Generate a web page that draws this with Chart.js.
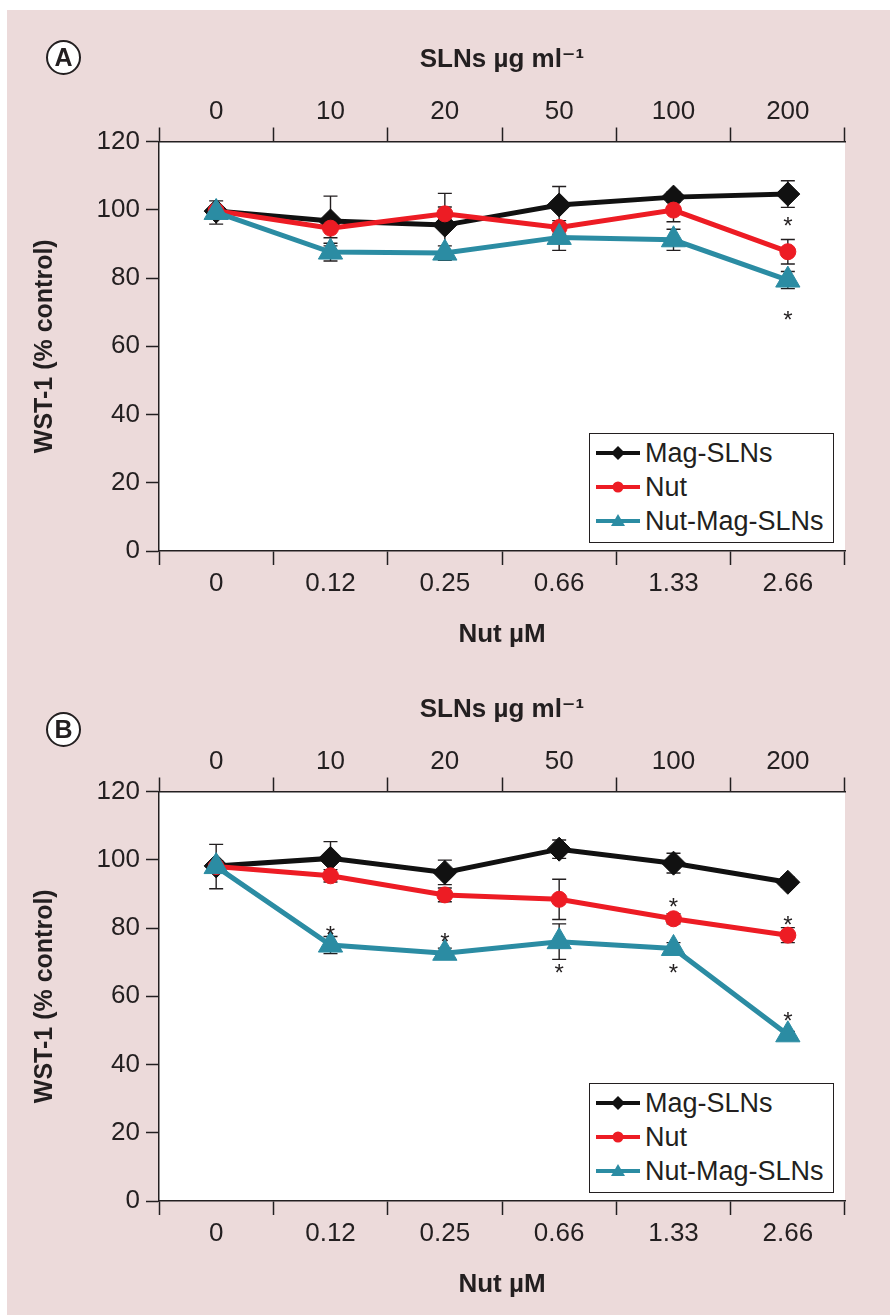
<!DOCTYPE html>
<html>
<head>
<meta charset="utf-8">
<script src="https://cdn.jsdelivr.net/npm/chart.js@4.4.1/dist/chart.umd.min.js"></script>
<style>
  body { margin: 0; width: 890px; height: 1315px; background: #fff; position: relative; overflow: hidden;
         font-family: 'Liberation Sans', Arial, sans-serif; color: #231f20; }
  #bg { position: absolute; left: 7px; top: 10px; right: 0; bottom: 0; background: #ecdada; }
  .panel { position: absolute; left: 0; width: 890px; height: 650px; }
  .tag { position: absolute; width: 31px; height: 31px; border: 2px solid #231f20; border-radius: 50%;
         background: #fff; font-weight: bold; font-size: 25px; line-height: 31px; text-align: center; }
  .legend { position: absolute; left: 589px; width: 243px; height: 106px; border: 1.5px solid #231f20;
            background: #fff; padding-top: 2px; box-sizing: content-box; }
  .legend .row { height: 34px; line-height: 34px; font-size: 27px; white-space: nowrap; }
  .legend svg { vertical-align: middle; margin: 0 5px 0 6px; position: relative; top: -2px; }
</style>
</head>
<body>
<div id="bg"></div>

<div class="panel" style="top:0"><canvas id="chartA"></canvas></div>
<div class="panel" style="top:650px"><canvas id="chartB"></canvas></div>

<div class="tag" style="left:46px; top:40px">A</div>
<div class="tag" style="left:46px; top:712px">B</div>

<div class="legend" style="top:433px" id="legendA"></div>
<div class="legend" style="top:1083px" id="legendB"></div>

<script>
/* ---- data ---- */
var nutLabels = ['0', '0.12', '0.25', '0.66', '1.33', '2.66'];
var slnLabels = ['0', '10', '20', '50', '100', '200'];
var seriesNames = ['Mag-SLNs', 'Nut', 'Nut-Mag-SLNs'];

// panel A
var magA       = [99.6, 96.7, 95.5, 101.4, 103.7, 104.6];
var magErrA    = [1.0, 7.3, 9.3, 5.4, 1.5, 3.9];
var nutA       = [99.7, 94.6, 98.8, 94.8, 99.9, 87.7];
var nutErrA    = [1.0, 2.8, 2.0, 2.0, 3.4, 3.6];
var nutMagA    = [99.2, 87.6, 87.3, 91.9, 91.2, 79.4];
var nutMagErrA = [3.4, 2.6, 2.1, 3.8, 3.1, 2.5];
var starsA     = [[5, 96.7], [5, 69.2]];

// panel B
var magB       = [98.2, 100.4, 96.3, 103.1, 99.0, 93.4];
var magErrB    = [1.5, 4.9, 3.6, 2.7, 2.9, 1.5];
var nutB       = [98.0, 95.3, 89.7, 88.4, 82.7, 77.9];
var nutErrB    = [1.5, 1.8, 2.0, 5.9, 1.5, 2.2];
var nutMagB    = [98.0, 75.0, 72.6, 76.0, 74.0, 48.7];
var nutMagErrB = [6.5, 2.5, 1.5, 5.2, 1.7, 1.0];
var starsB     = [[1, 79.5], [2, 77.3], [3, 68.2], [4, 68.2], [5, 54.3], [4, 87.7], [5, 82.4]];

var C = {
  black: '#111111',
  red:   '#ed1c24',
  teal:  '#2b8ca3',
  ink:   '#231f20',
  font:  "'Liberation Sans', 'DejaVu Sans', Arial, sans-serif"
};

/* white plot area */
var plotBg = {
  id: 'plotBg',
  beforeDraw: function (chart) {
    var a = chart.chartArea, ctx = chart.ctx;
    ctx.save();
    ctx.fillStyle = '#fff';
    ctx.fillRect(a.left, a.top, a.right - a.left, a.bottom - a.top);
    ctx.restore();
  }
};

/* error bars, drawn under the markers */
var errorBars = {
  id: 'errorBars',
  beforeDatasetsDraw: function (chart) {
    var ctx = chart.ctx, y = chart.scales.y;
    ctx.save();
    ctx.strokeStyle = C.ink;
    ctx.lineWidth = 1.4;
    chart.data.datasets.forEach(function (ds, di) {
      var meta = chart.getDatasetMeta(di);
      meta.data.forEach(function (pt, i) {
        var v = ds.data[i], e = ds.errors[i];
        var top = y.getPixelForValue(v + e), bot = y.getPixelForValue(v - e);
        ctx.beginPath();
        ctx.moveTo(pt.x, top); ctx.lineTo(pt.x, bot);
        ctx.moveTo(pt.x - 7, top); ctx.lineTo(pt.x + 7, top);
        ctx.moveTo(pt.x - 7, bot); ctx.lineTo(pt.x + 7, bot);
        ctx.stroke();
      });
    });
    ctx.restore();
  }
};

function starPlugin(stars) {
  return {
    id: 'stars',
    afterDatasetsDraw: function (chart) {
      var ctx = chart.ctx, x = chart.scales.x, y = chart.scales.y;
      ctx.save();
      ctx.fillStyle = C.ink;
      ctx.font = '24px ' + C.font;
      ctx.textAlign = 'center';
      ctx.textBaseline = 'alphabetic';
      stars.forEach(function (s) {
        ctx.fillText('*', x.getPixelForValue(s[0]), y.getPixelForValue(s[1]) + 13);
      });
      ctx.restore();
    }
  };
}

function makeChart(id, mag, magErr, nut, nutErr, nutMag, nutMagErr, stars) {
  var tickFont = { family: C.font, size: 26 };
  var titleFont = { family: C.font, size: 26, weight: 'bold' };
  var axisGrid = { drawOnChartArea: false, offset: true, tickLength: 14, tickColor: C.ink, tickWidth: 1.5 };
  var axisBorder = { color: C.ink, width: 1.5 };

  return new Chart(document.getElementById(id), {
    type: 'line',
    data: {
      labels: nutLabels,
      datasets: [
        { label: seriesNames[0], data: mag, errors: magErr, order: 3,
          borderColor: C.black, backgroundColor: C.black, borderWidth: 5,
          pointStyle: 'rectRot', pointRadius: 12, pointBorderWidth: 1 },
        { label: seriesNames[1], data: nut, errors: nutErr, order: 2,
          borderColor: C.red, backgroundColor: C.red, borderWidth: 5,
          pointStyle: 'circle', pointRadius: 8, pointBorderWidth: 1 },
        { label: seriesNames[2], data: nutMag, errors: nutMagErr, order: 1,
          borderColor: C.teal, backgroundColor: C.teal, borderWidth: 5,
          pointStyle: 'triangle', pointRadius: 14, pointBorderWidth: 1 }
      ]
    },
    options: {
      responsive: true,
      maintainAspectRatio: false,
      animation: false,
      layout: { padding: { left: 0, right: 45, top: 0, bottom: 0 } },
      plugins: { legend: { display: false }, tooltip: { enabled: false } },
      scales: {
        x: {
          type: 'category', position: 'bottom', offset: true,
          grid: axisGrid, border: axisBorder,
          ticks: { color: C.ink, font: tickFont, padding: 3, maxRotation: 0 },
          title: { display: true, text: 'Nut µM', color: C.ink, font: titleFont, padding: { top: 0, bottom: 0 } },
          afterFit: function (s) { s.height = 99; }
        },
        x2: {
          type: 'category', position: 'top', offset: true, labels: slnLabels,
          grid: axisGrid, border: axisBorder,
          ticks: { color: C.ink, font: tickFont, padding: 0, maxRotation: 0 },
          title: { display: true, text: 'SLNs µg ml⁻¹', color: C.ink, font: titleFont, padding: { top: 44, bottom: 0 } },
          afterFit: function (s) { s.height = 141.5; }
        },
        y: {
          min: 0, max: 120,
          ticks: { stepSize: 20, color: C.ink, font: tickFont, padding: 6 },
          grid: { drawOnChartArea: false, tickLength: 13, tickColor: C.ink, tickWidth: 1.5 },
          border: axisBorder,
          title: { display: true, text: 'WST-1 (% control)', color: C.ink,
                   font: { family: C.font, size: 25, weight: 'bold' }, padding: { top: 30, bottom: 0 } },
          afterFit: function (s) { s.width = 159; }
        }
      }
    },
    plugins: [plotBg, errorBars, starPlugin(stars)]
  });
}

function legendIcon(color, shape) {
  var m = '';
  if (shape === 'diamond') m = '<path d="M22 3 L29 10 L22 17 L15 10 Z" fill="' + color + '"/>';
  if (shape === 'circle') m = '<circle cx="22" cy="10" r="5.5" fill="' + color + '"/>';
  if (shape === 'triangle') m = '<path d="M22 3 L29 15 L15 15 Z" fill="' + color + '"/>';
  return '<svg width="44" height="20" viewBox="0 0 44 20"><line x1="0" y1="10" x2="44" y2="10" stroke="' +
    color + '" stroke-width="4"/>' + m + '</svg>';
}

function fillLegend(id) {
  var colors = [C.black, C.red, C.teal];
  var shapes = ['diamond', 'circle', 'triangle'];
  var html = '';
  seriesNames.forEach(function (name, i) {
    html += '<div class="row">' + legendIcon(colors[i], shapes[i]) + '<span>' + name + '</span></div>';
  });
  document.getElementById(id).innerHTML = html;
}

makeChart('chartA', magA, magErrA, nutA, nutErrA, nutMagA, nutMagErrA, starsA);
makeChart('chartB', magB, magErrB, nutB, nutErrB, nutMagB, nutMagErrB, starsB);
fillLegend('legendA');
fillLegend('legendB');
</script>
</body>
</html>
